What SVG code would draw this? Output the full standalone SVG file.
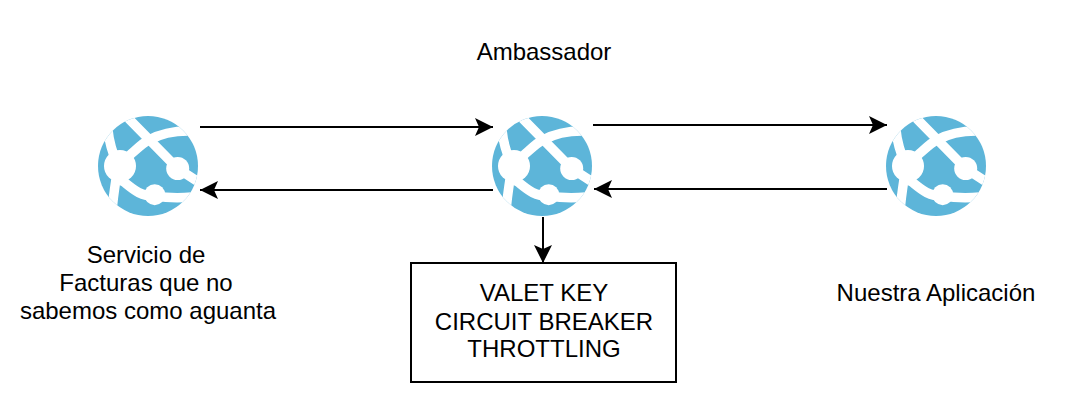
<svg xmlns="http://www.w3.org/2000/svg" xmlns:xlink="http://www.w3.org/1999/xlink" width="1080" height="414" viewBox="0 0 1080 414">
<style>
text{font-family:"Liberation Sans",Arial,sans-serif;font-size:24px;fill:#000;text-anchor:middle}
.c{fill:none;stroke:#000;stroke-width:2}
.s{fill:none;stroke:#fff;stroke-width:9.5}
</style>
<defs>
<marker id="a" markerUnits="userSpaceOnUse" markerWidth="19" markerHeight="18" refX="18" refY="9" orient="auto"><path d="M0,0L18,9L0,18L4,9Z" fill="#000"/></marker>
<clipPath id="cp"><circle r="50"/></clipPath>
<g id="icon">
<circle r="50" fill="#5db5d9"/>
<g clip-path="url(#cp)">
<path class="s" d="M-22,-50L29.7,2.5L52,17"/>
<path class="s" d="M-28,-2L-18,-11C-8,-20 -4,-24 1,-26C12,-32 24,-35 40,-35"/>
<path class="s" d="M-40,-36C-39,-24 -36,-14 -30,0C-32,14 -35,30 -36,46"/>
<path class="s" d="M-28,14L-24,16C-14,24 -8,30 6.7,30C20,32 32,32 44,31"/>
<circle cx="-28" cy="0" r="16" fill="#fff"/>
<circle cx="29.7" cy="2.5" r="11.5" fill="#fff"/>
<circle cx="6.7" cy="28.7" r="10.5" fill="#fff"/>
</g>
</g>
</defs>
<g id="connectors">
<path class="c" marker-end="url(#a)" d="M200,127H493"/>
<path class="c" marker-end="url(#a)" d="M493,190H200"/>
<path class="c" marker-end="url(#a)" d="M593,125H887"/>
<path class="c" marker-end="url(#a)" d="M887,189H594"/>
<path class="c" marker-end="url(#a)" d="M543,217V263"/>
</g>
<g id="servicio"><use href="#icon" x="148" y="166"/><text x="146" y="263">Servicio de</text><text x="146" y="291">Facturas que no</text><text x="148" y="319">sabemos como aguanta</text></g>
<g id="ambassador"><use href="#icon" x="542" y="166"/><text x="544" y="60">Ambassador</text></g>
<g id="aplicacion"><use href="#icon" x="936" y="166"/><text x="936" y="301">Nuestra Aplicación</text></g>
<g id="patterns"><rect x="411" y="263" width="265" height="119" fill="#fff" stroke="#000" stroke-width="2"/><text x="544" y="301">VALET KEY</text><text x="544" y="330">CIRCUIT BREAKER</text><text x="544" y="357">THROTTLING</text></g>
</svg>
